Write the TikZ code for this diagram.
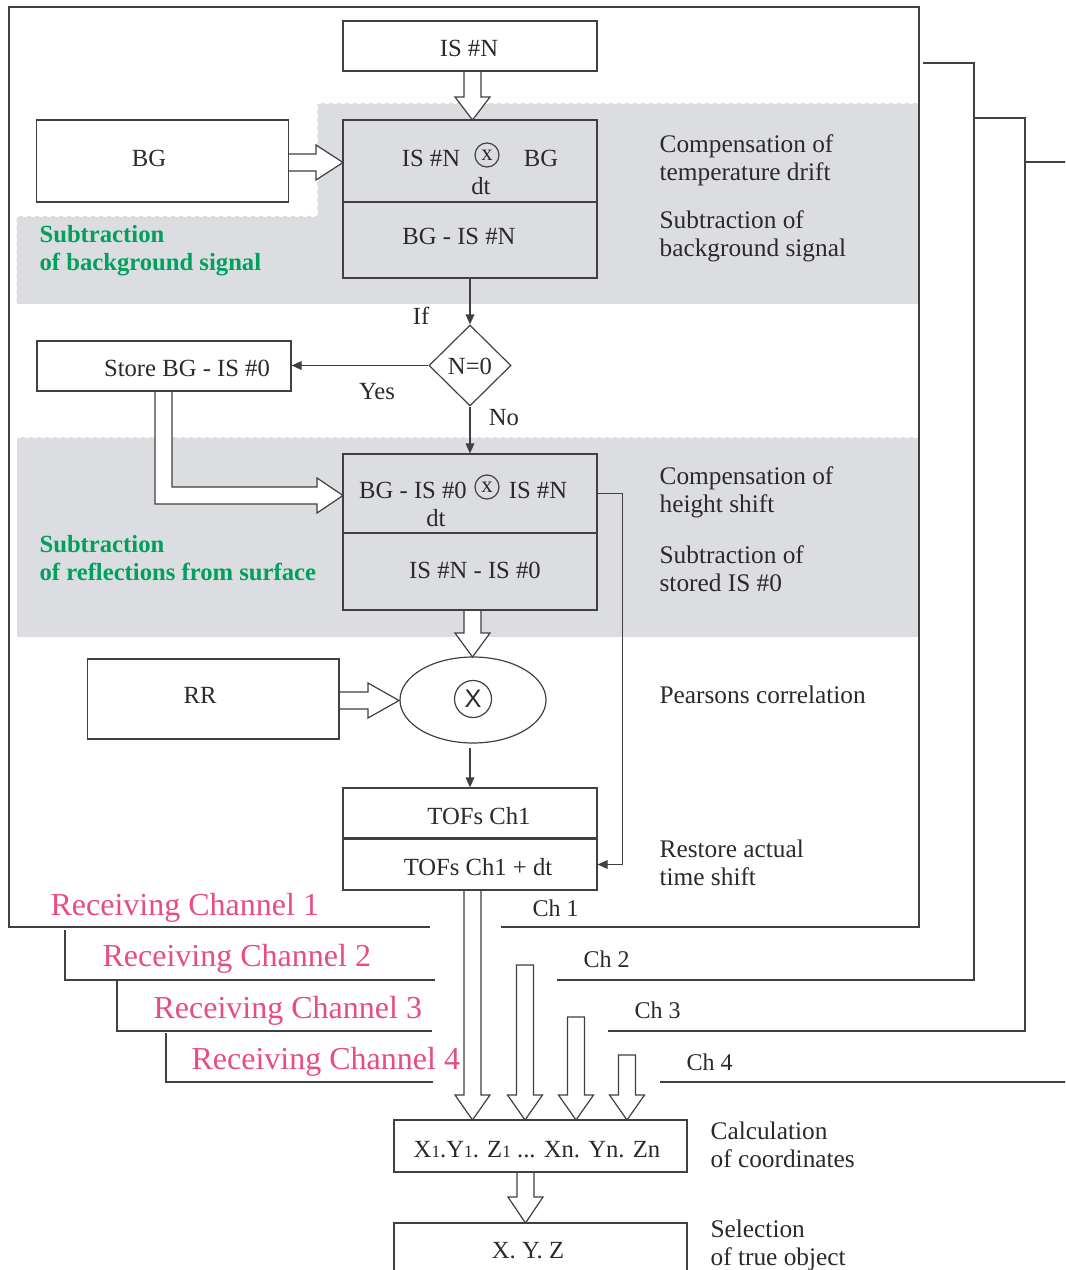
\documentclass[tikz,border=0pt]{standalone}
\usepackage{fontspec}
\setmainfont{Liberation Serif}
\newfontfamily\sansf{Liberation Sans}
\usetikzlibrary{arrows.meta,shapes.geometric,calc}
\definecolor{ln}{HTML}{404040}
\definecolor{tx}{HTML}{2A2A2A}
\definecolor{shade}{HTML}{DCDDE1}
\definecolor{grn}{HTML}{00A05E}
\definecolor{pnk}{HTML}{E84C80}
\def\u{0.75pt}
\newcommand\boxnode[5]{\node[bx, minimum width={(#4-#2)*0.75pt}, minimum height={(#5-#3)*0.75pt}] (#1) at ({(#2+#4)/2},{(#3+#5)/2}) {};}
\newcommand\hdown[5]{\draw[hol] (#1-#2,#3) -- (#1-#2,#4) -- (#1-17.5,#4) -- (#1,#5) -- (#1+17.5,#4) -- (#1+#2,#4) -- (#1+#2,#3);}
\newcommand\hdownc[5]{\draw[hol] (#1-#2,#3) -- (#1-#2,#4) -- (#1-17.5,#4) -- (#1,#5) -- (#1+17.5,#4) -- (#1+#2,#4) -- (#1+#2,#3) -- cycle;}
\newcommand\hright[5]{\draw[hol] (#3,#1-#2) -- (#4,#1-#2) -- (#4,#1-17.5) -- (#5,#1) -- (#4,#1+17.5) -- (#4,#1+#2) -- (#3,#1+#2);}
\begin{document}
\begin{tikzpicture}[x=0.75pt,y=-0.75pt,
  line width=0.9pt,
  bx/.style={draw=ln, rectangle, inner sep=0pt},
  hol/.style={draw=ln, fill=white, line join=miter},
  arr/.style={draw=ln, -{Triangle[length=7.5pt,width=6.5pt]}},
  wire/.style={draw=ln},
  txt/.style={inner sep=0pt, text=tx, font=\fontsize{18.5pt}{21pt}\selectfont},
  rtxt/.style={inner sep=0pt, text=tx, anchor=west, align=left, font=\fontsize{19pt}{21pt}\selectfont},
  gtxt/.style={inner sep=0pt, text=grn, anchor=west, align=left, font=\bfseries\fontsize{18.5pt}{21pt}\selectfont},
  ptxt/.style={inner sep=0pt, text=pnk, anchor=west, font=\fontsize{24pt}{26pt}\selectfont},
  otim/.style={draw=ln, circle, inner sep=0pt, minimum size=24*0.75pt, text=tx, font=\fontsize{17pt}{17pt}\selectfont},
  shd/.style={fill=shade, draw=white, dash pattern=on 3pt off 3pt, line width=0.6pt}
]
\useasboundingbox (0,0) rectangle (1065,1270);
\clip (0,0) rectangle (1065,1270);

% shaded regions
\path[shd] (317,103) -- (919,103) -- (919,304) -- (16.5,304) -- (16.5,216) -- (317,216) -- cycle;
\path[shd] (16.5,437) -- (919,437) -- (919,637) -- (16.5,637) -- cycle;

% outer frame (channel 1)
\draw[wire] (430,927) -- (9,927) -- (9,7) -- (919,7) -- (919,927) -- (501,927);

% channel lines
\draw[wire] (65,930) -- (65,980) -- (435,980);
\draw[wire] (117,980) -- (117,1031) -- (432,1031);
\draw[wire] (166,1033) -- (166,1082) -- (433,1082);
\draw[wire] (923,63) -- (974,63) -- (974,980) -- (557,980);
\draw[wire] (974,118) -- (1025,118) -- (1025,1031) -- (608,1031);
\draw[wire] (1025,162) -- (1066,162);
\draw[wire] (660,1082) -- (1066,1082);

% hollow arrows
\hdown{472.5}{8.5}{71}{97}{120}
\hright{162.5}{8.5}{288.6}{316}{343}
\draw[hol] (155,391) -- (155,504) -- (317,504) -- (317,513) -- (343,495.5) -- (317,478) -- (317,487) -- (172,487) -- (172,391);
\hdown{472.5}{8.5}{610}{633}{657}
\hright{700.5}{8.5}{339}{368}{399}
\hdown{472.5}{8.5}{890}{1095}{1120}
\hdownc{525}{8.5}{965}{1095}{1120}
\hdownc{576}{8.5}{1017}{1095}{1120}
\hdownc{627}{8.5}{1055}{1095}{1120}
\hdown{525.5}{8.5}{1172}{1197}{1223}

% boxes
\boxnode{isn}{343}{21}{597}{71}
\boxnode{bg}{36.5}{120}{288.6}{202}
\boxnode{comp}{343}{120}{597}{202}
\boxnode{sub}{343}{202}{597}{278}
\boxnode{store}{37}{341}{291}{391}
\boxnode{comph}{343}{454}{597}{533}
\boxnode{subs}{343}{533}{597}{610}
\boxnode{rr}{87.5}{659}{339}{739}
\boxnode{tof}{343}{788}{597}{838}
\boxnode{tofdt}{343}{839}{597}{890}
\boxnode{calc}{394}{1120}{687}{1172}
\boxnode{xyz}{394}{1223}{687}{1310}

\node[draw=ln, diamond, inner sep=0pt, minimum width=82*0.75pt, minimum height=81*0.75pt] (dia) at (470,365.5) {};
\node[draw=ln, ellipse, inner sep=0pt, minimum width=146*0.75pt, minimum height=86*0.75pt] (ell) at (473,700) {};
\node[draw=ln, circle, inner sep=0pt, minimum size=37*0.75pt, text=tx, font=\sansf\fontsize{19pt}{19pt}\selectfont] (mulx) at (473,699) {X};

% thin connectors
\draw[arr] (sub.south) -- (dia.north);
\draw[arr] (dia.west) -- (store.east |- dia.west);
\draw[arr] (dia.south) -- (comph.north);
\draw[arr] (ell.south -| tof.north) ++(0,4) -- (tof.north);
\draw[arr] ($(comph.east)+(0,0)$) -- ++(25,0) |- (tofdt.east);

% texts in boxes
\node[txt] (t-isn) at (469,48) {IS \#N};
\node[txt] (t-bg) at (149,158) {BG};
\node[txt] (t-c1a) at (431,158) {IS \#N};
\node[otim] (o1) at (487,155) {x};
\node[txt] (t-c1b) at (541,158) {BG};
\node[txt] (t-c1dt) at (481,186) {dt};
\node[txt] (t-s1) at (459,236) {BG - IS \#N};
\node[txt] (t-if) at (421,316) {If};
\node[txt] (t-n0) at (470,366) {N=0};
\node[txt] (t-yes) at (377,392) {Yes};
\node[txt] (t-no) at (504,418) {No};
\node[txt] (t-store) at (187,368) {Store BG - IS \#0};
\node[txt] (t-c2a) at (413,490) {BG - IS \#0};
\node[otim] (o2) at (487,487) {x};
\node[txt] (t-c2b) at (538,490) {IS \#N};
\node[txt] (t-c2dt) at (436,518) {dt};
\node[txt] (t-s2) at (475,570) {IS \#N - IS \#0};
\node[txt] (t-rr) at (200,695) {RR};
\node[txt] (t-tof) at (479,816) {TOFs Ch1};
\node[txt] (t-tofdt) at (478,867) {TOFs Ch1 + dt};
\node[txt] (t-calc) at (537,1150) {X{\fontsize{13pt}{13pt}\selectfont 1}.Y{\fontsize{13pt}{13pt}\selectfont 1}. Z{\fontsize{13pt}{13pt}\selectfont 1} ... Xn. Yn. Zn};
\node[txt] (t-xyz) at (528,1251) {X. Y. Z};

% side descriptions
\node[rtxt] (d1) at (659,160) {Compensation of\\temperature drift};
\node[rtxt] (d2) at (659,236) {Subtraction of\\background signal};
\node[rtxt] (d3) at (659,492) {Compensation of\\height shift};
\node[rtxt] (d4) at (659,569) {Subtraction of\\stored IS \#0};
\node[rtxt] (d5) at (659,695) {Pearsons correlation};
\node[rtxt] (d6) at (659,863) {Restore actual\\time shift};
\node[rtxt] (d7) at (710,1145) {Calculation\\of coordinates};
\node[rtxt] (d8) at (710,1245) {Selection\\of true object};

% green titles
\node[gtxt] (g1) at (39,251) {Subtraction\\of background signal};
\node[gtxt] (g2) at (39,558) {Subtraction\\of reflections from surface};

% channels
\node[ptxt] (rc1) at (50,908) {Receiving Channel 1};
\node[ptxt] (rc2) at (102,959) {Receiving Channel 2};
\node[ptxt] (rc3) at (153,1011) {Receiving Channel 3};
\node[ptxt] (rc4) at (191,1062) {Receiving Channel 4};
\node[rtxt, font=\fontsize{18pt}{20pt}\selectfont] (ch1) at (532,908) {Ch 1};
\node[rtxt, font=\fontsize{18pt}{20pt}\selectfont] (ch2) at (583,959) {Ch 2};
\node[rtxt, font=\fontsize{18pt}{20pt}\selectfont] (ch3) at (634,1010) {Ch 3};
\node[rtxt, font=\fontsize{18pt}{20pt}\selectfont] (ch4) at (686,1062) {Ch 4};
\end{tikzpicture}
\end{document}
